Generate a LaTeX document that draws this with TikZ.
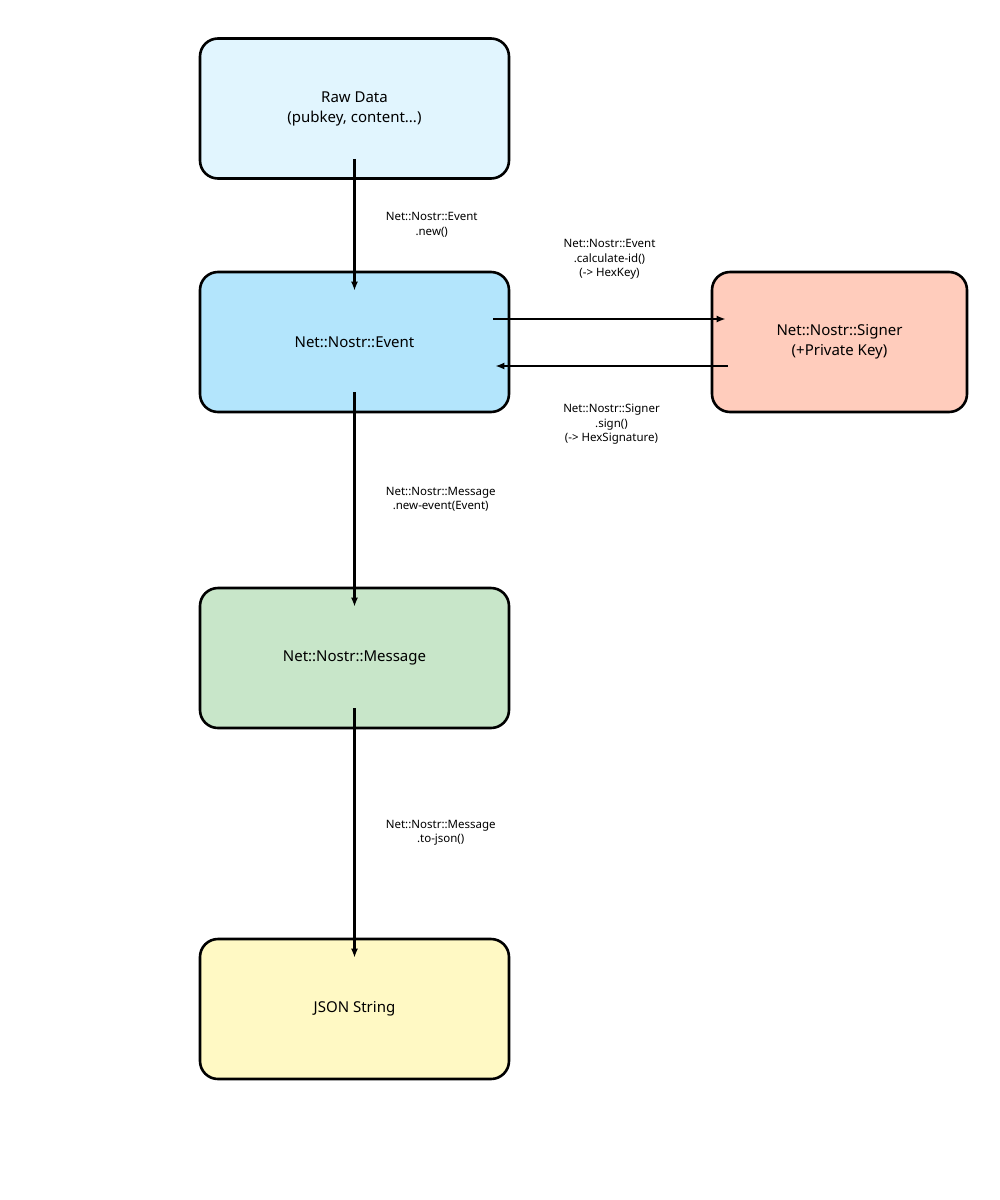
\documentclass[tikz,border=0pt]{standalone}
\usepackage{fontspec}
\setmainfont{Noto Sans}
\usetikzlibrary{arrows.meta,positioning}
\definecolor{nyers}{HTML}{E1F5FE}
\definecolor{esemeny}{HTML}{B3E5FC}
\definecolor{alairo}{HTML}{FFCCBC}
\definecolor{uzenet}{HTML}{C8E6C9}
\definecolor{sarga}{HTML}{FFF9C4}
\tikzset{
  blokk/.style={draw,line width=2.6pt,rounded corners=18pt,minimum width=309pt,
    minimum height=140pt,align=center,inner sep=0pt,font=\fontsize{15}{20}\selectfont},
  nyil/.style={line width=2.7pt,-{Latex[length=9pt,width=7pt]}},
  felirat/.style={align=center,inner sep=0pt,font=\fontsize{11.5}{14.5}\selectfont},
}

\begin{document}
\begin{tikzpicture}[x=1pt,y=-1pt]
  \useasboundingbox (0,0) rectangle (1000,1200);
  \node[blokk,fill=nyers] (raw) at (354.5,108.5) {Raw Data\\(pubkey, content...)};
  \node[blokk,fill=esemeny] (event) at (354.5,342) {Net::Nostr::Event};
  \node[blokk,fill=alairo,minimum width=255pt] (signer) at (839.5,342)
    {Net::Nostr::Signer\\(+Private Key)};
  \node[blokk,fill=uzenet] (msg) at (354.5,658) {Net::Nostr::Message};
  \node[blokk,fill=sarga] (json) at (354.5,1009) {JSON String};
  % vertical flow
  \draw[nyil] ([yshift=21pt]raw.south) -- ([yshift=-20pt]event.north)
    node[midway,right=30pt,felirat] {Net::Nostr::Event\\.new()};
  \draw[nyil] ([yshift=21pt]event.south) -- ([yshift=-20pt]msg.north)
    node[midway,right=30pt,felirat] {Net::Nostr::Message\\.new-event(Event)};
  \draw[nyil] ([yshift=21pt]msg.south) -- ([yshift=-20pt]json.north)
    node[midway,right=30pt,felirat] {Net::Nostr::Message\\.to-json()};
  % signer round trip
  \draw[nyil] ([xshift=-17pt,yshift=23pt]event.east) -- ([xshift=15pt,yshift=23pt]signer.west)
    node[midway,above=38pt,felirat] {Net::Nostr::Event\\.calculate-id()\\(-> HexKey)};
  \draw[nyil] ([xshift=17pt,yshift=-24pt]signer.west) -- ([xshift=-15pt,yshift=-24pt]event.east)
    node[midway,below=37pt,felirat] {Net::Nostr::Signer\\.sign()\\(-> HexSignature)};
\end{tikzpicture}
\end{document}
